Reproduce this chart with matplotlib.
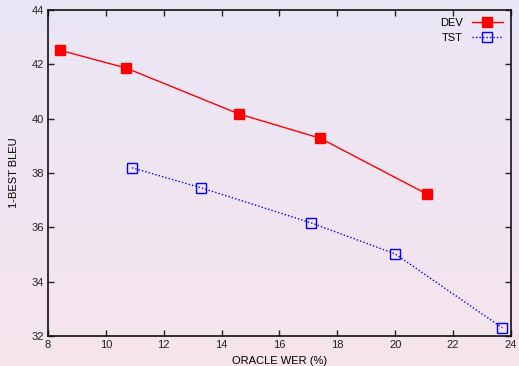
import numpy as np
import matplotlib
matplotlib.use('Agg')
import matplotlib.pyplot as plt

plt.rcParams['font.family'] = ['Liberation Sans', 'DejaVu Sans']

dev_wer = [8.4, 10.7, 14.6, 17.4, 21.1]
dev_bleu = [42.52, 41.86, 40.17, 39.28, 37.22]
tst_wer = [10.9, 13.3, 17.1, 20.0, 23.7]
tst_bleu = [38.19, 37.45, 36.16, 35.02, 32.3]

fig = plt.figure(figsize=(5.19, 3.66), dpi=100)

# background gradient, lavender on top, pink at the bottom
bg = fig.add_axes([0, 0, 1, 1], zorder=-10)
top = np.array([234, 230, 246]) / 255.
bot = np.array([246, 228, 236]) / 255.
t = np.linspace(0, 1, 256)[:, None]
grad = top[None, :] * (1 - t) + bot[None, :] * t
bg.imshow(grad[:, None, :], aspect='auto', extent=[0, 1, 0, 1])
bg.axis('off')

ax = fig.add_axes([0.0925, 0.082, 0.892, 0.891])
ax.patch.set_alpha(0)
ax.plot(dev_wer, dev_bleu, color='#ff0000', lw=1, marker='s', ms=7.5,
        mfc='#ff0000', mec='#ff0000', label='DEV')
ax.plot(tst_wer, tst_bleu, color='#0000ff', lw=1, ls=(0, (1, 1.5)), marker='s',
        ms=7.5, mfc='none', mec='#0000ff', mew=1, label='TST')

ax.set_xlim(8, 24)
ax.set_ylim(32, 44)
ax.set_xticks(np.arange(8, 25, 2))
ax.set_yticks(np.arange(32, 45, 2))
ax.tick_params(direction='in', top=True, right=True, labelsize=8, length=4,
               width=1, pad=3, colors='#222222')
for s in ax.spines.values():
    s.set_linewidth(1.2)
    s.set_color('#111111')
ax.set_xlabel('ORACLE WER (%)', fontsize=8, labelpad=4)
ax.set_ylabel('1-BEST BLEU', fontsize=8, labelpad=9)

ax.legend(loc='upper right', frameon=False, markerfirst=False, fontsize=8,
          handlelength=2.8, borderaxespad=0.35, labelspacing=0.4)

fig.savefig('out.png', dpi=100)
